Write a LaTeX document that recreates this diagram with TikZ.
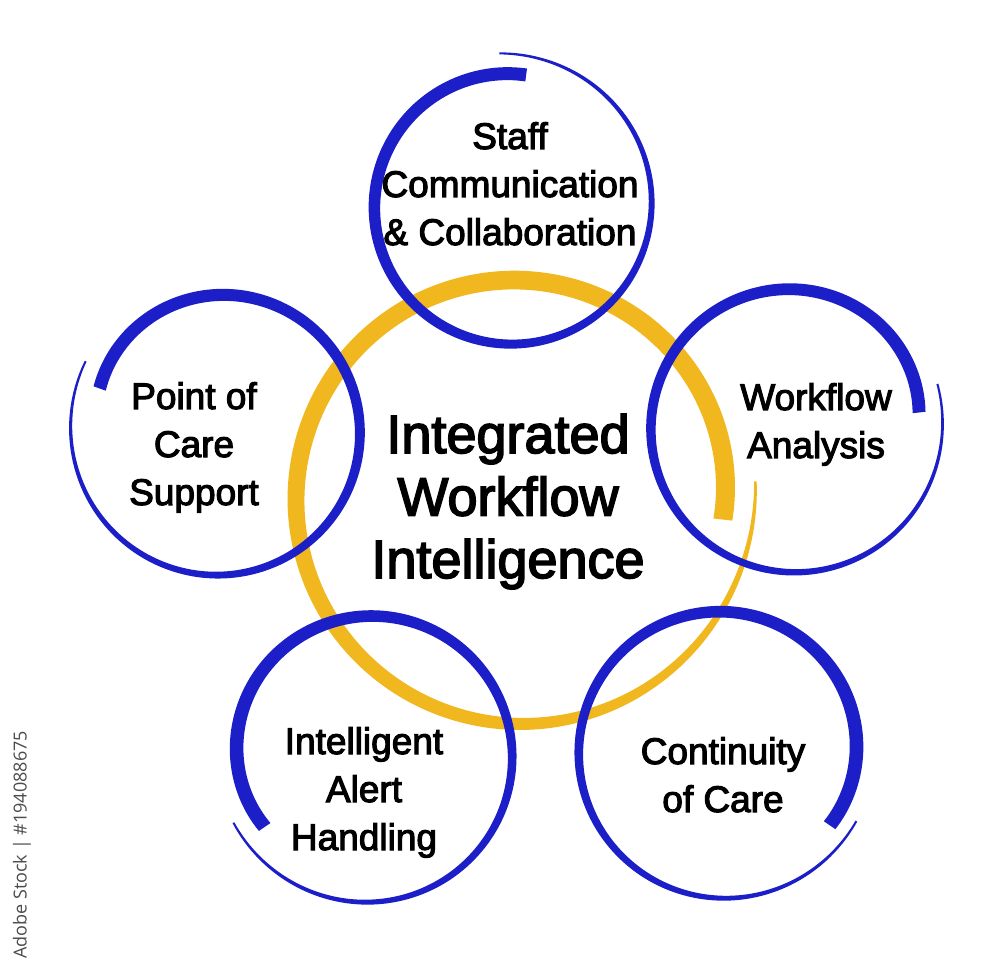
\documentclass[tikz,border=0pt]{standalone}
\usepackage{fontspec}
\setmainfont{Liberation Sans}
\newfontfamily\heavyfont[FakeBold=3]{Liberation Sans}
\newfontfamily\wmfont{Open Sans}
\definecolor{bblue}{RGB}{28,30,200}
\definecolor{byellow}{RGB}{240,183,30}
\newcommand\brushwp{1.5}
% #1 cx, #2 cy, #3 R, #4 inset at start, #5 outset at end, #6 start angle, #7 sweep, #8 start width, #9 end width
\newcommand\brush[9]{%
  \fill plot[domain=0:1,samples=260]
   ({#1+(#3-#4*(1-\x)^6+#5*(\x)^4+0.5*(#9+(#8-#9)*(1-(\x)^\brushwp)))*cos(#6+(#7)*\x)},
    {#2-(#3-#4*(1-\x)^6+#5*(\x)^4+0.5*(#9+(#8-#9)*(1-(\x)^\brushwp)))*sin(#6+(#7)*\x)})
  -- plot[domain=1:0,samples=260]
   ({#1+(#3-#4*(1-\x)^6+#5*(\x)^4-0.5*(#9+(#8-#9)*(1-(\x)^\brushwp)))*cos(#6+(#7)*\x)},
    {#2-(#3-#4*(1-\x)^6+#5*(\x)^4-0.5*(#9+(#8-#9)*(1-(\x)^\brushwp)))*sin(#6+(#7)*\x)})
  -- cycle;}
\tikzset{
  yellowbrush/.style={fill=byellow},
  bluebrush/.style={fill=bblue},
  sat/.style={font=\heavyfont\fontsize{18.5}{24}\selectfont, align=center, inner sep=0pt, anchor=base},
  hub/.style={font=\heavyfont\fontsize{27}{31.25}\selectfont, align=center, inner sep=0pt, anchor=base},
  wmark/.style={font=\wmfont\fontsize{9}{10}\selectfont, text=black!70, rotate=90, inner sep=0pt}
}
\begin{document}
\begin{tikzpicture}[x=0.5pt,y=-0.5pt]
\useasboundingbox[fill=white] (0,0) rectangle (1000,967);
% central yellow stroke
\begin{scope}[yellowbrush]
\renewcommand\brushwp{3}
\brush{517}{498}{220}{13}{19}{-6}{370}{19}{2.5}
\end{scope}
% blue strokes
\begin{scope}[bluebrush]
\brush{510}{207}{136}{3}{18}{83}{371}{13}{2}
\brush{219}{432}{141}{14}{10}{160}{-368}{13}{2}
\brush{793}{428}{142}{15}{9}{7}{370}{13}{2}
\brush{370}{756}{141}{14}{11}{214}{-368}{14}{2}
\brush{721}{752}{141}{10}{11}{-34}{367}{14}{2}
\end{scope}
% texts (anchor = baseline of the last line)
\node[hub] (iwi) at (508,578) {Integrated\\Workflow\\Intelligence};
\node[sat] (staff) at (510,245) {Staff\\Communication\\\& Collaboration};
\node[sat] (poc) at (194,505) {Point of\\Care\\Support};
\node[sat] (wfa) at (816,458) {Workflow\\Analysis};
\node[sat] (iah) at (364,850) {Intelligent\\Alert\\Handling};
\node[sat] (coc) at (723,812) {Continuity\\of Care};
\node[wmark] (wm) at (22,845) {Adobe Stock | \#194088675};
\end{tikzpicture}
\end{document}
